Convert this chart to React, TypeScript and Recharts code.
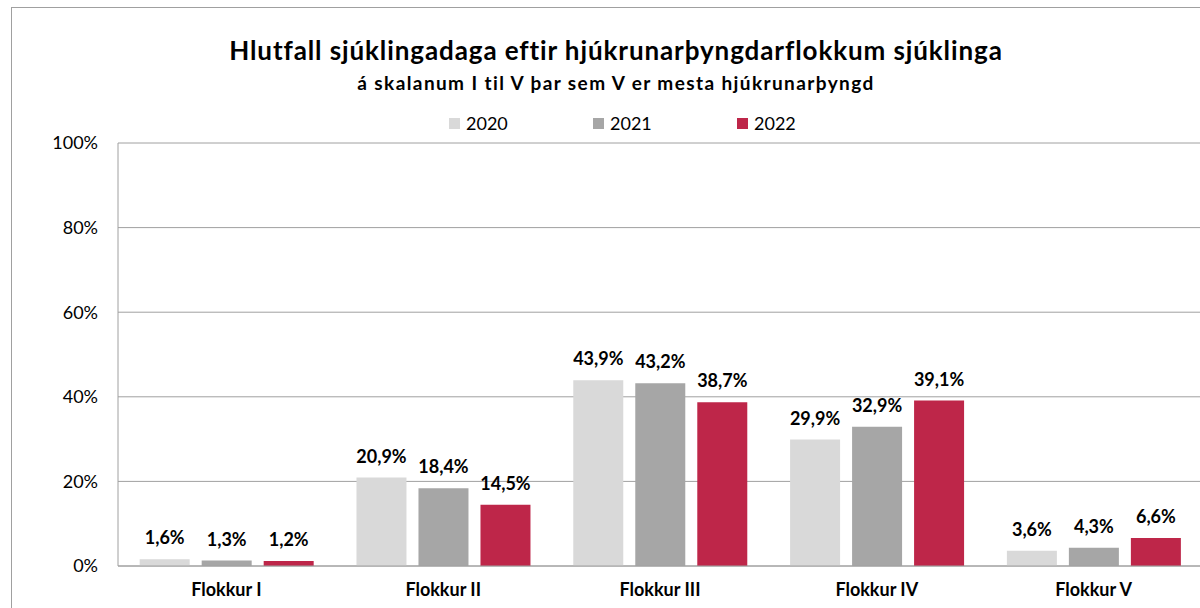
import { Bar, BarChart, CartesianGrid, LabelList, XAxis, YAxis } from "recharts";

const categories = ["Flokkur I", "Flokkur II", "Flokkur III", "Flokkur IV", "Flokkur V"];
const years = ["2020", "2021", "2022"];
const values2020 = [1.6, 20.9, 43.9, 29.9, 3.6];
const values2021 = [1.3, 18.4, 43.2, 32.9, 4.3];
const values2022 = [1.2, 14.5, 38.7, 39.1, 6.6];
const yTicks = [0, 20, 40, 60, 80, 100];

const colors = ["#d9d9d9", "#a6a6a6", "#be2649"];
const font = "Lato, 'Open Sans', sans-serif";

const data = categories.map((name, i) => ({
  name,
  y2020: values2020[i],
  y2021: values2021[i],
  y2022: values2022[i],
}));

const pct = (v: unknown) => `${Number(v).toFixed(1).replace(".", ",")}%`;

function LegendRow() {
  return (
    <div style={{ position: "absolute", left: 449, top: 112, display: "flex", fontFamily: font, fontSize: 18, color: "#000" }}>
      {years.map((y, i) => (
        <div key={y} style={{ display: "flex", alignItems: "center", width: 144 }}>
          <span style={{ width: 11, height: 11, background: colors[i], marginRight: 6, display: "inline-block" }} />
          <span>{y}</span>
        </div>
      ))}
    </div>
  );
}

export default function App() {
  return (
    <div style={{ position: "absolute", left: 0, top: 0, width: 1200, height: 608, overflow: "hidden", background: "#fff" }}>
      <div style={{ position: "absolute", left: 11, top: 7, width: 1220, height: 620, border: "1px solid #a0a0a0" }} />
      <div style={{ position: "absolute", left: 0, top: 34, width: 1232, textAlign: "center", fontFamily: font, fontWeight: 700, fontSize: 26, letterSpacing: 0.9, color: "#000" }}>
        Hlutfall sjúklingadaga eftir hjúkrunarþyngdarflokkum sjúklinga
      </div>
      <div style={{ position: "absolute", left: 0, top: 71, width: 1232, textAlign: "center", fontFamily: font, fontWeight: 700, fontSize: 19, letterSpacing: 1.4, color: "#000" }}>
        á skalanum I til V þar sem V er mesta hjúkrunarþyngd
      </div>
      <LegendRow />
      <div style={{ position: "absolute", left: 0, top: 0 }}>
        <BarChart
          width={1210}
          height={608}
          data={data}
          margin={{ top: 143, right: 8, bottom: 12, left: 0 }}
          barCategoryGap="10%"
          barGap={12}
        >
          <CartesianGrid vertical={false} stroke="#a0a0a0" />
          <XAxis
            dataKey="name"
            height={30}
            tickLine={false}
            tickSize={0}
            tickMargin={17}
            axisLine={{ stroke: "#a0a0a0" }}
            tick={{ fill: "#000", fontSize: 18, fontWeight: 700, fontFamily: font }}
          />
          <YAxis
            width={118}
            domain={[0, 100]}
            ticks={yTicks}
            tickFormatter={(v) => `${v}%`}
            tickLine={false}
            tickSize={0}
            tickMargin={20}
            axisLine={{ stroke: "#a0a0a0" }}
            tick={{ fill: "#000", fontSize: 18, fontFamily: font }}
          />
          {["y2020", "y2021", "y2022"].map((key, i) => (
            <Bar key={key} dataKey={key} fill={colors[i]} isAnimationActive={false}>
              <LabelList
                dataKey={key}
                position="top"
                offset={15}
                formatter={pct}
                style={{ fill: "#000", fontSize: 18, fontWeight: 700, fontFamily: font }}
              />
            </Bar>
          ))}
        </BarChart>
      </div>
    </div>
  );
}
